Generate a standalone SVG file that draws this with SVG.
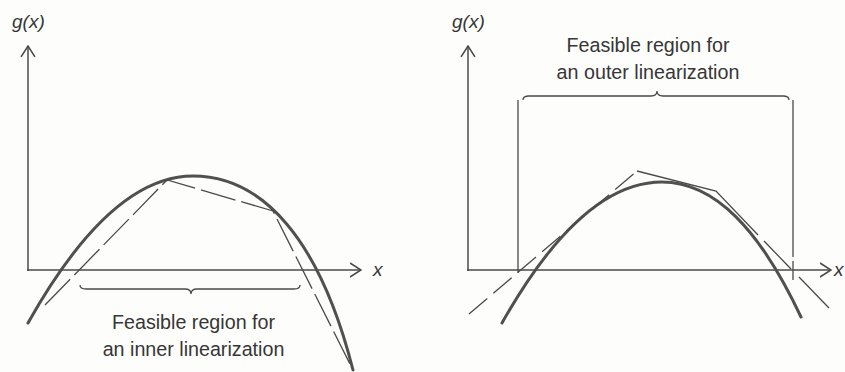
<svg xmlns="http://www.w3.org/2000/svg" width="845" height="372" viewBox="0 0 845 372">
<style>
.axis{fill:none;stroke:#4a4a4a;stroke-width:1.5}
.thin{fill:none;stroke:#4a4a4a;stroke-width:1.3}
.curve{fill:none;stroke:#505050;stroke-width:3;stroke-linecap:round}
.dash{fill:none;stroke:#4a4a4a;stroke-width:1.3;stroke-dasharray:36 6}
.lbl{font-family:"Liberation Sans",Arial,sans-serif;fill:#363636}
.math{font-family:"Liberation Sans",Arial,sans-serif;font-style:italic;fill:#363636;font-size:19px}
.cap{font-size:19.7px;text-anchor:middle}
</style>
<defs>
<marker id="arr" viewBox="0 0 12 16" refX="11" refY="8" markerWidth="12" markerHeight="16" markerUnits="userSpaceOnUse" orient="auto">
<path d="M0,1 L11,8 L0,15" fill="none" stroke="#4a4a4a" stroke-width="1.5"/>
</marker>
</defs>
<rect width="845" height="372" fill="#fdfdfb"/>

<g id="left-panel">
<g id="left-axes">
<line class="axis" x1="28" y1="271" x2="28" y2="46" marker-end="url(#arr)"/>
<line class="axis" x1="27" y1="270" x2="361" y2="270" marker-end="url(#arr)"/>
<text class="math" x="12" y="28">g(x)</text>
<text class="math" x="373" y="276">x</text>
</g>
<g id="left-curve">
<path class="curve" d="M28,323 C83,225 138,176 193,176 C263,176 320,240 353,370"/>
</g>
<g id="inner-linearization">
<path class="dash" d="M45,305 L167,180 L273,211 L353,370"/>
</g>
<g id="inner-brace">
<path class="thin" d="M80,285 Q80,289 86,289 L185,289 Q191,289 191,294 Q191,289 197,289 L294,289 Q300,289 300,285"/>
<text class="lbl cap" x="193.5" y="329">Feasible region for</text>
<text class="lbl cap" x="193.5" y="356">an inner linearization</text>
</g>
</g>

<g id="right-panel">
<g id="right-axes">
<line class="axis" x1="468" y1="271" x2="468" y2="46" marker-end="url(#arr)"/>
<line class="axis" x1="467" y1="270" x2="831" y2="270" marker-end="url(#arr)"/>
<text class="math" x="834" y="276">x</text>
<text class="math" x="452" y="28">g(x)</text>
</g>
<g id="right-curve">
<path class="curve" d="M502,323 C555,229 609,182 662,182 C715,182 760,230 801,317"/>
</g>
<g id="outer-linearization">
<path class="thin" d="M469,314 L637,171" stroke-dasharray="24 8"/>
<path class="thin" d="M637,171 L716,191 L758,235"/>
<path class="thin" d="M764,241 L791,269"/>
<path class="thin" d="M799,277 L829,308"/>
</g>
<g id="outer-brace">
<line class="thin" x1="518" y1="100" x2="518" y2="273"/>
<line class="thin" x1="793" y1="100" x2="793" y2="257"/>
<line class="thin" x1="793" y1="261" x2="793" y2="280"/>
<path class="thin" d="M523,100 Q523,96 529,96 L651,96 Q657,96 657,91 Q657,96 663,96 L783,96 Q789,96 789,100"/>
<text class="lbl cap" x="648" y="52">Feasible region for</text>
<text class="lbl cap" x="648" y="79">an outer linearization</text>
</g>
</g>
</svg>
